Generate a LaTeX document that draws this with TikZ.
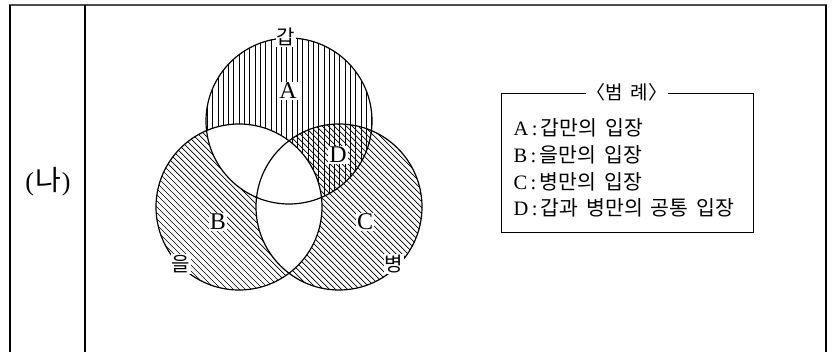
\documentclass[tikz,border=0pt]{standalone}
\usepackage{fontspec}
\setmainfont{Liberation Serif}
\newfontfamily\kr[WordSpace=1.7]{Noto Sans CJK KR}
\usetikzlibrary{positioning}
\begin{document}
\begin{tikzpicture}[x=1pt, y=-1pt, line width=1.2pt,
    hatch/.style={line width=0.7pt},
    setlabel/.style={fill=white, inner sep=1pt, font=\fontsize{24}{24}\selectfont},
    setname/.style={fill=white, inner sep=1pt, font=\kr\fontsize{20}{20}\selectfont},
    item/.style={anchor=west, inner sep=0pt, font=\fontsize{20.5}{20.5}\selectfont}]
    \useasboundingbox (0, 0) rectangle (840, 352);

    % table frame
    \draw [line width=2pt, black!70] (9, 5) -- (827, 5);
    \draw (10, 5) -- (10, 352);
    \draw (85, 5) -- (85, 352);
    \draw (826, 5) -- (826, 352);
    \node [font=\fontsize{26}{26}\selectfont] (row) at (48, 182)
        {(\kern1pt{\kr\fontsize{28}{28}\selectfont 나}\kern1pt)};

    \coordinate (ga) at (289, 121);
    \coordinate (eul) at (239, 207);
    \coordinate (byeong) at (339, 207);

    % A: vertical lines
    \begin{scope}[even odd rule]
        \clip (ga) circle [radius=83pt];
        \clip (eul) circle [radius=83pt] (0, 0) rectangle (840, 352);
        \foreach \i in {0,...,36}
            \draw [hatch] (202+5.3*\i, 30) -- ++(0, 190);
    \end{scope}
    % B: north west lines
    \begin{scope}[even odd rule]
        \clip (eul) circle [radius=83pt];
        \clip (ga) circle [radius=83pt] (0, 0) rectangle (840, 352);
        \clip (byeong) circle [radius=83pt] (0, 0) rectangle (840, 352);
        \foreach \i in {0,...,70}
            \draw [hatch] (-60+6*\i, 110) -- ++(200, 200);
    \end{scope}
    % C: north east lines
    \begin{scope}[even odd rule]
        \clip (byeong) circle [radius=83pt];
        \clip (eul) circle [radius=83pt] (0, 0) rectangle (840, 352);
        \foreach \i in {0,...,70}
            \draw [hatch] (200+6*\i, 310) -- ++(-200, -200);
    \end{scope}

    \draw (ga) circle [radius=83pt];
    \draw (eul) circle [radius=83pt];
    \draw (byeong) circle [radius=83pt];

    \node [setname] (gaName) at (286, 37) {갑};
    \node [setname] (eulName) at (181, 264) {을};
    \node [setname] (byeongName) at (394, 264) {병};

    \node [setlabel] (A) at (288, 91) {A};
    \node [setlabel] (D) at (338, 155) {D};
    \node [setlabel] (B) at (218, 222) {B};
    \node [setlabel] (C) at (365, 222) {C};

    % legend
    \node [draw, minimum width=252pt, minimum height=139pt, inner sep=0pt,
        line width=0.9pt] (legend) at (627, 162.5) {};
    \node [fill=white, inner sep=1pt, font=\kr\fontsize{19}{19}\selectfont]
        (title) at (legend.north) {〈범 례〉};
    \node [item] (itemA) at (513, 128) {A\,:\,{\kr 갑만의 입장}};
    \node [item] (itemB) at (513, 155) {B\,:\,{\kr 을만의 입장}};
    \node [item] (itemC) at (513, 182) {C\,:\,{\kr 병만의 입장}};
    \node [item] (itemD) at (513, 208) {D\,:\,{\kr 갑과 병만의 공통 입장}};
\end{tikzpicture}
\end{document}
